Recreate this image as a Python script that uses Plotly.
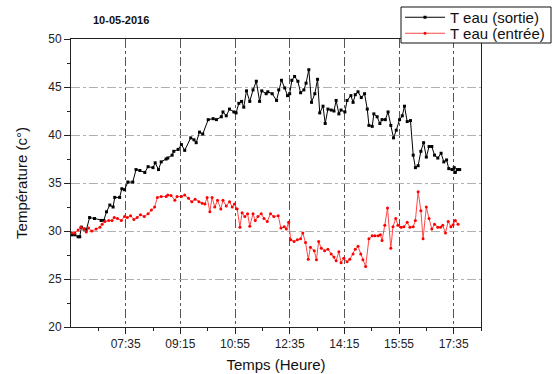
import plotly.graph_objects as go

DAY = "2016-05-10"

# Water temperature at outlet ("sortie")
sortie_time = [
    "05:56", "06:02", "06:08", "06:11", "06:14", "06:19", "06:23", "06:29", "06:38", "06:50",
    "06:55", "07:00", "07:06", "07:12", "07:15", "07:24", "07:28", "07:33", "07:39", "07:48",
    "07:54", "08:01", "08:10", "08:16", "08:25", "08:29", "08:35", "08:40", "08:49", "08:52",
    "09:00", "09:03", "09:11", "09:17", "09:23", "09:34", "09:40", "09:44", "09:50", "09:56",
    "10:06", "10:15", "10:21", "10:30", "10:33", "10:39", "10:45", "10:53", "10:57", "11:02",
    "11:07", "11:11", "11:16", "11:22", "11:28", "11:34", "11:40", "11:44", "11:52", "11:55",
    "12:03", "12:11", "12:15", "12:20", "12:26", "12:31", "12:35", "12:39", "12:44", "12:50",
    "12:55", "13:01", "13:05", "13:10", "13:15", "13:21", "13:26", "13:30", "13:36", "13:40",
    "13:45", "13:51", "13:56", "14:00", "14:05", "14:09", "14:16", "14:20", "14:27", "14:31",
    "14:35", "14:40", "14:46", "14:52", "14:57", "15:00", "15:06", "15:09", "15:15", "15:20",
    "15:24", "15:30", "15:35", "15:40", "15:45", "15:50", "15:56", "16:01", "16:05", "16:10",
    "16:16", "16:21", "16:25", "16:30", "16:35", "16:40", "16:45", "16:50", "16:55", "17:00",
    "17:06", "17:12", "17:17", "17:22", "17:26", "17:32", "17:36", "17:38", "17:42", "17:46",
]
sortie_temp = [
    29.6, 29.6, 29.4, 29.4, 30.4, 30.2, 30.1, 31.4, 31.3, 31.1,
    31.1, 32.0, 32.7, 32.5, 33.5, 33.5, 34.4, 34.3, 35.1, 35.1,
    36.4, 36.3, 36.1, 36.7, 36.6, 37.1, 36.4, 37.2, 37.5, 37.6,
    37.9, 38.3, 38.5, 39.0, 38.4, 39.7, 39.5, 39.2, 40.3, 40.1,
    41.6, 41.7, 41.6, 41.9, 42.4, 42.0, 42.7, 42.4, 42.3, 43.3,
    43.5, 42.9, 44.6, 43.5, 44.7, 45.6, 43.5, 44.6, 44.3, 44.5,
    44.3, 43.6, 44.7, 45.7, 44.9, 44.1, 44.3, 45.7, 46.1, 45.6,
    44.4, 44.7, 45.4, 46.8, 43.4, 44.3, 45.8, 42.3, 43.0, 41.2,
    42.7, 42.6, 42.5, 43.6, 42.2, 42.6, 42.4, 43.6, 44.1, 43.4,
    44.2, 44.5, 43.9, 44.3, 42.7, 41.0, 40.9, 42.2, 41.9, 41.2,
    41.6, 41.6, 42.4, 41.0, 39.7, 40.5, 41.6, 42.0, 43.0, 41.4,
    41.5, 37.9, 36.6, 36.8, 38.3, 39.2, 37.7, 38.8, 38.8, 37.9,
    37.6, 38.1, 37.2, 37.4, 36.5, 36.4, 36.6, 36.1, 36.4, 36.4,
]

# Water temperature at inlet ("entrée")
entree_time = [
    "05:56", "06:02", "06:08", "06:13", "06:19", "06:23", "06:27", "06:33", "06:41", "06:48",
    "06:52", "06:57", "07:04", "07:10", "07:14", "07:20", "07:27", "07:33", "07:38", "07:44",
    "07:50", "07:56", "08:02", "08:09", "08:16", "08:22", "08:28", "08:33", "08:40", "08:49",
    "08:52", "08:58", "09:05", "09:09", "09:17", "09:23", "09:30", "09:36", "09:42", "09:49",
    "09:55", "10:00", "10:04", "10:09", "10:13", "10:18", "10:23", "10:29", "10:33", "10:39",
    "10:45", "10:50", "10:54", "10:59", "11:04", "11:08", "11:13", "11:18", "11:22", "11:28",
    "11:32", "11:37", "11:43", "11:48", "11:54", "12:00", "12:06", "12:14", "12:19", "12:25",
    "12:29", "12:33", "12:37", "12:43", "12:49", "12:55", "12:59", "13:04", "13:09", "13:13",
    "13:20", "13:24", "13:28", "13:33", "13:39", "13:45", "13:51", "13:56", "14:00", "14:05",
    "14:09", "14:14", "14:20", "14:25", "14:31", "14:35", "14:40", "14:45", "14:49", "14:54",
    "15:00", "15:06", "15:11", "15:17", "15:21", "15:24", "15:29", "15:34", "15:40", "15:44",
    "15:49", "15:53", "15:59", "16:04", "16:10", "16:15", "16:21", "16:25", "16:30", "16:35",
    "16:39", "16:45", "16:50", "16:55", "17:00", "17:06", "17:11", "17:15", "17:20", "17:25",
    "17:30", "17:34", "17:38", "17:43",
]
entree_temp = [
    29.8, 29.8, 30.1, 30.4, 30.2, 29.9, 30.3, 30.0, 30.2, 30.4,
    30.7, 31.0, 31.1, 31.1, 31.4, 31.3, 31.1, 31.5, 31.4, 31.6,
    31.2, 31.4, 31.7, 31.5, 31.8, 32.2, 32.5, 33.5, 33.6, 33.6,
    33.75, 33.7, 33.2, 33.6, 33.6, 33.75, 33.4, 33.05, 33.3, 33.05,
    32.9, 32.8, 33.5, 32.0, 33.5, 32.5, 33.2, 32.3, 33.2, 32.6,
    33.05, 32.5, 32.8, 32.3, 30.4, 31.9, 31.5, 31.8, 30.5, 31.8,
    31.1, 31.5, 31.8, 31.3, 31.0, 31.8, 31.5, 31.6, 30.3, 30.45,
    30.2, 30.9, 29.1, 28.9, 29.1, 29.2, 29.8, 28.8, 27.05, 28.3,
    27.95, 27.0, 28.9, 28.2, 27.95, 28.1, 27.6, 27.3, 26.9, 27.85,
    26.7, 27.15, 26.8, 27.05, 27.6, 28.1, 28.4, 27.6, 27.0, 26.3,
    29.2, 29.5, 29.5, 29.5, 29.6, 29.0, 30.6, 32.4, 28.2, 30.45,
    31.3, 30.6, 30.4, 30.45, 30.9, 30.4, 30.45, 31.1, 34.1, 32.1,
    29.2, 32.5, 31.3, 30.2, 30.7, 30.4, 30.4, 30.6, 29.8, 31.0,
    30.45, 30.65, 31.1, 30.7,
]

x_tick_labels = ["07:35", "09:15", "10:55", "12:35", "14:15", "15:55", "17:35"]
x_minor_labels = ["06:45", "08:25", "10:05", "11:45", "13:25", "15:05", "16:45", "18:25"]
x_range = ["05:55", "18:25"]
y_ticks = [20, 25, 30, 35, 40, 45, 50]

FONT = "Arial, Liberation Sans, sans-serif"

# plot area in pixels (for placing the legend frame and date label)
PLOT_L, PLOT_R, PLOT_T, PLOT_B = 71, 481, 39, 327
W, H = 553, 374


def stamp(hm):
    return f"{DAY} {hm}"


def px_x(px):
    return (px - PLOT_L) / (PLOT_R - PLOT_L)


def px_y(py):
    return (PLOT_B - py) / (PLOT_B - PLOT_T)


fig = go.Figure()

fig.add_trace(go.Scatter(
    x=[stamp(t) for t in sortie_time], y=sortie_temp,
    mode="lines+markers", name="T eau (sortie)", legend="legend",
    line=dict(color="#000000", width=1),
    marker=dict(symbol="square", size=3, color="#000000"),
))
fig.add_trace(go.Scatter(
    x=[stamp(t) for t in entree_time], y=entree_temp,
    mode="lines+markers", name="T eau (entrée)", legend="legend2",
    line=dict(color="#ff4848", width=1),
    marker=dict(symbol="circle", size=3, color="#ff0000"),
))

fig.update_xaxes(
    type="date",
    range=[stamp(x_range[0]), stamp(x_range[1])],
    tickvals=[stamp(t) for t in x_tick_labels],
    ticktext=x_tick_labels,
    ticks="outside", ticklen=6, tickcolor="#222222",
    tickfont=dict(family=FONT, size=12, color="#222222"),
    minor=dict(tickvals=[stamp(t) for t in x_minor_labels], ticks="outside",
               ticklen=3, tickcolor="#222222", showgrid=False),
    showline=True, linecolor="#222222", linewidth=1, mirror=True,
    showgrid=True, gridcolor="#555555", griddash="dashdot", gridwidth=1,
    zeroline=False, automargin=False,
    title=dict(text="Temps (Heure)", font=dict(family=FONT, size=15, color="#111111"), standoff=9),
)
fig.update_yaxes(
    range=[20, 50],
    tickvals=y_ticks,
    ticks="outside", ticklen=6, tickcolor="#222222",
    tickfont=dict(family=FONT, size=12, color="#222222"),
    minor=dict(dtick=2.5, ticks="outside", ticklen=3, tickcolor="#222222", showgrid=False),
    showline=True, linecolor="#222222", linewidth=1, mirror=True,
    showgrid=True, gridcolor="#b0b0b0", griddash="dashdot", gridwidth=1,
    zeroline=False, automargin=False,
    title=dict(text="Température (c°)", font=dict(family=FONT, size=15, color="#111111"), standoff=16),
)

fig.add_annotation(
    text="<b>10-05-2016</b>", xref="paper", yref="paper",
    x=px_x(121), y=px_y(20), xanchor="center", yanchor="middle",
    showarrow=False, font=dict(family=FONT, size=11, color="#111111"),
)

# legend frame
fig.add_shape(
    type="rect", xref="paper", yref="paper", layer="above",
    x0=px_x(401), x1=px_x(551), y0=px_y(43), y1=px_y(7),
    line=dict(color="#111111", width=1), fillcolor="white",
)

legend_common = dict(
    xref="container", yref="container", x=400 / W, xanchor="left", yanchor="middle",
    bgcolor="rgba(0,0,0,0)", borderwidth=0,
    font=dict(family=FONT, size=15, color="#111111"), itemwidth=40,
)

fig.update_layout(
    width=W, height=H,
    margin=dict(l=PLOT_L, r=W - PLOT_R, t=PLOT_T, b=H - PLOT_B, autoexpand=False),
    paper_bgcolor="white", plot_bgcolor="white",
    showlegend=True,
    legend=dict(y=1 - 17.5 / H, **legend_common),
    legend2=dict(y=1 - 33.5 / H, **legend_common),
)

fig.write_html("out.html")
